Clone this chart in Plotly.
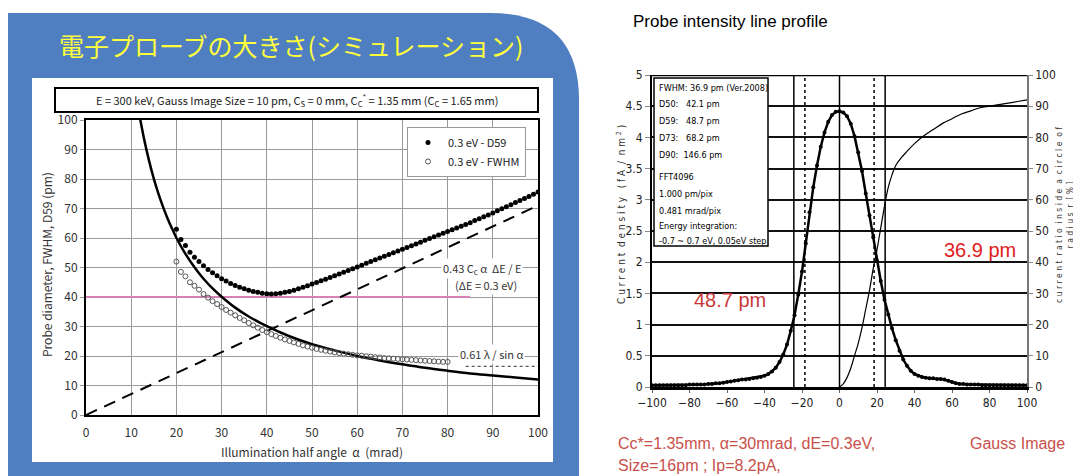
import plotly.graph_objects as go

# The page body has an 8px margin; the figure is drawn 8px in from the window.
OFF = 8
W, H = 1081 - OFF, 476 - OFF


def px(x):
    return (x - OFF) / W


def py(y):
    return 1 - (y - OFF) / H


# ---------------- Left chart data ----------------
alpha_d59 = list(range(20, 101))
d59 = [63.0, 59.5, 57.5, 55.2, 53.5, 52.0, 50.6, 49.3, 48.2, 47.2,
       46.2, 45.4, 44.6, 43.9, 43.3, 42.8, 42.3, 41.9, 41.6, 41.3,
       41.1, 41.0, 41.1, 41.3, 41.6, 41.9, 42.3, 42.8, 43.3, 43.8,
       44.4, 44.9, 45.5, 46.0, 46.6, 47.2, 47.8, 48.4, 49.0, 49.6,
       50.2, 50.8, 51.4, 52.0, 52.6, 53.2, 53.8, 54.4, 55.0, 55.6,
       56.2, 56.8, 57.4, 58.0, 58.6, 59.2, 59.8, 60.4, 61.0, 61.6,
       62.2, 62.8, 63.4, 64.0, 64.6, 65.2, 65.9, 66.5, 67.2, 67.8,
       68.5, 69.2, 69.9, 70.6, 71.3, 72.0, 72.7, 73.4, 74.1, 74.8,
       75.6]

alpha_fwhm = list(range(20, 81))
fwhm = [52.0, 48.5, 47.0, 45.0, 43.8, 42.5, 41.0, 39.8, 38.6, 37.6,
        36.6, 35.6, 34.7, 33.8, 32.9, 32.1, 31.2, 30.4, 29.6, 28.8,
        28.1, 27.4, 26.8, 26.2, 25.6, 25.1, 24.6, 24.1, 23.6, 23.2,
        22.8, 22.4, 22.1, 21.8, 21.5, 21.2, 21.0, 20.8, 20.6, 20.4,
        20.2, 20.1, 19.9, 19.8, 19.6, 19.5, 19.3, 19.2, 19.1, 19.0,
        18.9, 18.8, 18.7, 18.6, 18.5, 18.4, 18.3, 18.2, 18.1, 18.0,
        18.0]

alpha_diff = [12, 13, 14, 15, 16, 17, 18, 19, 20, 22, 24, 26, 28, 30, 33, 36,
              40, 45, 50, 55, 60, 65, 70, 75, 80, 85, 90, 95, 100]
diff = [100.2, 92.5, 85.9, 80.1, 75.1, 70.7, 66.8, 63.3, 60.1, 54.6, 50.1,
        46.2, 42.9, 40.1, 36.4, 33.4, 30.1, 26.7, 24.0, 21.9, 20.0, 18.5,
        17.2, 16.0, 15.0, 14.1, 13.4, 12.7, 12.0]

alpha_chrom = [0, 100]
chrom = [0, 71]

alpha_limit = [0, 85]
limit = [40, 40]

alpha_note = [84, 100]
note_level = [16.5, 16.5]

left_ticks = [0, 10, 20, 30, 40, 50, 60, 70, 80, 90, 100]

# ---------------- Right chart data ----------------
pos = list(range(-100, 101, 2))
intensity = [0.03, 0.03, 0.03, 0.03, 0.03, 0.03, 0.03, 0.03, 0.03, 0.03,   # -100..-82
             0.04, 0.04, 0.04, 0.04, 0.04, 0.05, 0.05, 0.06, 0.06, 0.07,   # -80..-62
             0.08, 0.09, 0.10, 0.11, 0.12, 0.12, 0.13, 0.14, 0.15, 0.16,   # -60..-42
             0.18, 0.21, 0.25, 0.31, 0.40, 0.52, 0.68, 0.90, 1.15, 1.48,   # -40..-22
             1.85, 2.30, 2.80, 3.20, 3.55, 3.85, 4.08, 4.25, 4.36, 4.41,   # -20..-2
             4.42,                                                          # 0
             4.40, 4.34, 4.22, 4.02, 3.76, 3.46, 3.10, 2.75, 2.40, 2.02,   # 2..20
             1.70, 1.40, 1.16, 0.94, 0.75, 0.58, 0.44, 0.34, 0.26, 0.21,   # 22..40
             0.18, 0.16, 0.15, 0.14, 0.14, 0.13, 0.13, 0.12, 0.10, 0.08,   # 42..60
             0.06, 0.05, 0.05, 0.04, 0.04, 0.04, 0.04, 0.03, 0.03, 0.03,   # 62..80
             0.03, 0.03, 0.03, 0.03, 0.03, 0.03, 0.03, 0.03, 0.03, 0.03]   # 82..100

radius = [0, 2, 4, 6, 8, 10, 12, 14, 16, 18, 20, 22, 24, 26, 28, 30, 33, 36,
          40, 45, 50, 55, 60, 65, 70, 75, 80, 85, 90, 95, 100]
ratio = [0, 1, 3, 6, 10, 14, 19, 25, 31, 38, 44, 51, 58, 64, 68, 71, 73.5,
         75.5, 78, 80.5, 82.5, 84.5, 86, 87.5, 88.5, 89.5, 90, 90.5, 91, 91.5, 92]

fwhm_pm = 36.9
d59_pm = 48.7

info_lines = ["FWHM: 36.9 pm (Ver.2008)", "D50:   42.1 pm", "D59:   48.7 pm",
              "D73:   68.2 pm", "D90:  146.6 pm", "FFT4096", "1.000 pm/pix",
              "0.481 mrad/pix", "Energy integration:",
              "-0.7 ~ 0.7 eV, 0.05eV step"]
info_y = [88, 104, 121, 138, 155, 177, 194, 211, 226, 241]

x2_ticks = [-100, -80, -60, -40, -20, 0, 20, 40, 60, 80, 100]
y2_ticks = [0, 0.5, 1, 1.5, 2, 2.5, 3, 3.5, 4, 4.5, 5]
y3_ticks = [0, 10, 20, 30, 40, 50, 60, 70, 80, 90, 100]

JP = "Noto Sans CJK JP, sans-serif"
NARROW = "Liberation Sans Narrow, DejaVu Sans Condensed, Arial Narrow, sans-serif"
SANS = "Liberation Sans, Arial, sans-serif"

fig = go.Figure()

# ---- left traces ----
fig.add_trace(go.Scatter(x=alpha_limit, y=limit, mode="lines",
                         line=dict(color="#d682b4", width=2), showlegend=False,
                         xaxis="x", yaxis="y", hoverinfo="skip"))
fig.add_trace(go.Scatter(x=alpha_chrom, y=chrom, mode="lines",
                         line=dict(color="black", width=2, dash="12px,8px"),
                         showlegend=False, xaxis="x", yaxis="y"))
fig.add_trace(go.Scatter(x=alpha_diff, y=diff, mode="lines", line_shape="spline",
                         line=dict(color="black", width=2.5),
                         showlegend=False, xaxis="x", yaxis="y"))
fig.add_trace(go.Scatter(x=alpha_d59, y=d59, mode="markers", name="0.3 eV - D59",
                         marker=dict(color="black", size=5, symbol="circle"),
                         xaxis="x", yaxis="y"))
fig.add_trace(go.Scatter(x=alpha_fwhm, y=fwhm, mode="markers", name="0.3 eV - FWHM",
                         marker=dict(color="#555555", size=5, symbol="circle-open",
                                     line=dict(width=1)),
                         xaxis="x", yaxis="y"))
fig.add_trace(go.Scatter(x=alpha_note, y=note_level, mode="lines",
                         line=dict(color="#555555", width=1.2, dash="dot"),
                         showlegend=False, xaxis="x", yaxis="y"))

# ---- right traces ----
fig.add_trace(go.Scatter(x=pos, y=intensity, mode="lines+markers",
                         line=dict(color="black", width=2.5),
                         marker=dict(color="black", size=4),
                         showlegend=False, xaxis="x2", yaxis="y2"))
fig.add_trace(go.Scatter(x=radius, y=ratio, mode="lines", line_shape="spline",
                         line=dict(color="black", width=1.2),
                         showlegend=False, xaxis="x2", yaxis="y3"))

shapes = []
# blue panel with rounded top-right corner
path = "M {} {} L {} {} Q {} {} {} {} L {} {} L {} {} Z".format(
    px(8), py(13), px(490), py(13), px(579), py(13), px(579), py(100),
    px(579), py(480), px(8), py(480))
shapes.append(dict(type="path", path=path, xref="paper", yref="paper",
                   fillcolor="#4f7fc0", line=dict(width=0), layer="below"))
shapes.append(dict(type="rect", xref="paper", yref="paper",
                   x0=px(32), x1=px(553), y0=py(78), y1=py(462),
                   fillcolor="white", line=dict(width=0), layer="below"))
# header box
shapes.append(dict(type="rect", xref="paper", yref="paper",
                   x0=px(55), x1=px(538), y0=py(88), y1=py(112),
                   fillcolor="rgba(0,0,0,0)", line=dict(color="black", width=2),
                   layer="below"))
# right vertical markers
for xv in [0, -d59_pm / 2, d59_pm / 2]:
    shapes.append(dict(type="line", xref="x2", yref="y2", x0=xv, x1=xv, y0=0, y1=5,
                       line=dict(color="black", width=1.5)))
for xv in [-fwhm_pm / 2, fwhm_pm / 2]:
    shapes.append(dict(type="line", xref="x2", yref="y2", x0=xv, x1=xv, y0=0, y1=5,
                       line=dict(color="black", width=1.5, dash="dot")))
# info box
shapes.append(dict(type="rect", xref="paper", yref="paper",
                   x0=px(654), x1=px(768), y0=py(78), y1=py(246),
                   fillcolor="white", line=dict(color="black", width=1.5)))
# top border of right plot
shapes.append(dict(type="line", xref="x2", yref="y2", x0=-100, x1=100, y0=5, y1=5,
                   line=dict(color="black", width=2.5)))

ann = []


def add_text(text, x, y, font, xanchor="center", angle=0, bg=None):
    d = dict(text=text, x=px(x), y=py(y), xref="paper", yref="paper",
             xanchor=xanchor, yanchor="middle", showarrow=False, font=font,
             textangle=angle)
    if bg:
        d["bgcolor"] = bg
    ann.append(d)


add_text("電子プローブの大きさ(シミュレーション)", 291, 45,
         dict(family=JP, size=25, color="#ffff3c"))
add_text("E = 300 keV, Gauss Image Size = 10 pm, C<sub>S</sub> = 0 mm, "
         "C<sub>C</sub><sup>*</sup> = 1.35 mm (C<sub>C</sub> = 1.65 mm)", 297, 100,
         dict(family=JP, size=11, color="#222"))
add_text("0.43 C<sub>c</sub> α  ΔE / E", 482, 268, dict(family=JP, size=11, color="#333"),
         bg="white")
add_text("(ΔE = 0.3 eV)", 486, 285, dict(family=JP, size=11, color="#333"), bg="white")
add_text("0.61 λ / sin α", 491, 354, dict(family=JP, size=11, color="#333"), bg="white")
add_text("Illumination half angle  α  (mrad)", 312, 451,
         dict(family=JP, size=12, color="#333"))
add_text("Probe diameter, FWHM, D59 (pm)", 46, 265,
         dict(family=JP, size=12, color="#333"), angle=-90)

# right chart texts
add_text("Probe intensity line profile", 631, 21,
         dict(family=SANS, size=17, color="black"), xanchor="left")
for t, yy in zip(info_lines, info_y):
    add_text(t, 657, yy, dict(family=NARROW, size=9, color="black"), xanchor="left")
add_text("36.9 pm", 980, 250, dict(family=SANS, size=20, color="#e02020"))
add_text("48.7 pm", 730, 300, dict(family=SANS, size=20, color="#c83a3a"))
add_text("Cc*=1.35mm, α=30mrad, dE=0.3eV,", 616, 443,
         dict(family=SANS, size=16, color="#c9504a"), xanchor="left")
add_text("Gauss Image", 968, 443, dict(family=SANS, size=16, color="#c9504a"),
         xanchor="left")
add_text("Size=16pm ; Ip=8.2pA,", 616, 465,
         dict(family=SANS, size=16, color="#c9504a"), xanchor="left")
add_text("C u r r e n t  d e n s i t y   ( f A  /  n m <sup>2</sup> )", 621, 215,
         dict(family=NARROW, size=10, color="#333"), angle=-90)
add_text("c u r r e n t  r a t i o  i n s i d e  a  c i r c l e  o f"
         "<br>r a d i u s  r  [ % ]", 1064, 215,
         dict(family=NARROW, size=8.5, color="#333"), angle=-90)

fig.update_layout(
    width=W, height=H, margin=dict(l=0, r=0, t=0, b=0, autoexpand=False),
    paper_bgcolor="white", plot_bgcolor="rgba(0,0,0,0)",
    shapes=shapes, annotations=ann,
    legend=dict(x=px(407), y=py(127), xanchor="left", yanchor="top",
                bgcolor="white", bordercolor="#999", borderwidth=1,
                font=dict(family=JP, size=11, color="#222"),
                itemwidth=30, tracegroupgap=0),
    xaxis=dict(domain=[px(86), px(538)], range=[0, 100], tickvals=left_ticks,
               showgrid=True, gridcolor="#9a9a9a", gridwidth=1,
               showline=True, mirror=True, linecolor="black", linewidth=2,
               ticks="", zeroline=False, anchor="y", automargin=False,
               ticklabelstandoff=6,
               tickfont=dict(family=JP, size=12, color="#333")),
    yaxis=dict(domain=[py(415), py(120)], range=[0, 100], tickvals=left_ticks,
               showgrid=True, gridcolor="#9a9a9a", gridwidth=1,
               showline=True, mirror=True, linecolor="black", linewidth=2,
               ticks="outside", ticklen=4, tickcolor="#999", zeroline=False,
               anchor="x", automargin=False,
               tickfont=dict(family=JP, size=12, color="#333")),
    xaxis2=dict(domain=[px(652), px(1027)], range=[-100, 100], tickvals=x2_ticks,
                showgrid=False, showline=True, linecolor="black", linewidth=2.5,
                ticks="outside", ticklen=3, tickcolor="#666", zeroline=False,
                anchor="y2", automargin=False,
                tickfont=dict(family=NARROW, size=12, color="#222")),
    yaxis2=dict(domain=[py(387), py(75)], range=[0, 5], tickvals=y2_ticks,
                ticktext=["0", "0.5", "1", "1.5", "2", "2.5", "3", "3.5", "4", "4.5", "5"],
                showgrid=True, gridcolor="#111", gridwidth=2,
                showline=True, mirror=False, linecolor="black", linewidth=2,
                ticks="outside", ticklen=5, tickcolor="#888", zeroline=False,
                anchor="x2", automargin=False,
                tickfont=dict(family=NARROW, size=12, color="#222")),
    yaxis3=dict(overlaying="y2", side="right", anchor="x2", range=[0, 100],
                tickvals=y3_ticks, showgrid=False, showline=True,
                linecolor="#777", linewidth=1.5, ticks="outside", ticklen=4,
                tickcolor="#888", zeroline=False, automargin=False,
                tickfont=dict(family=NARROW, size=12, color="#222")),
)

fig.write_html("out.html")
